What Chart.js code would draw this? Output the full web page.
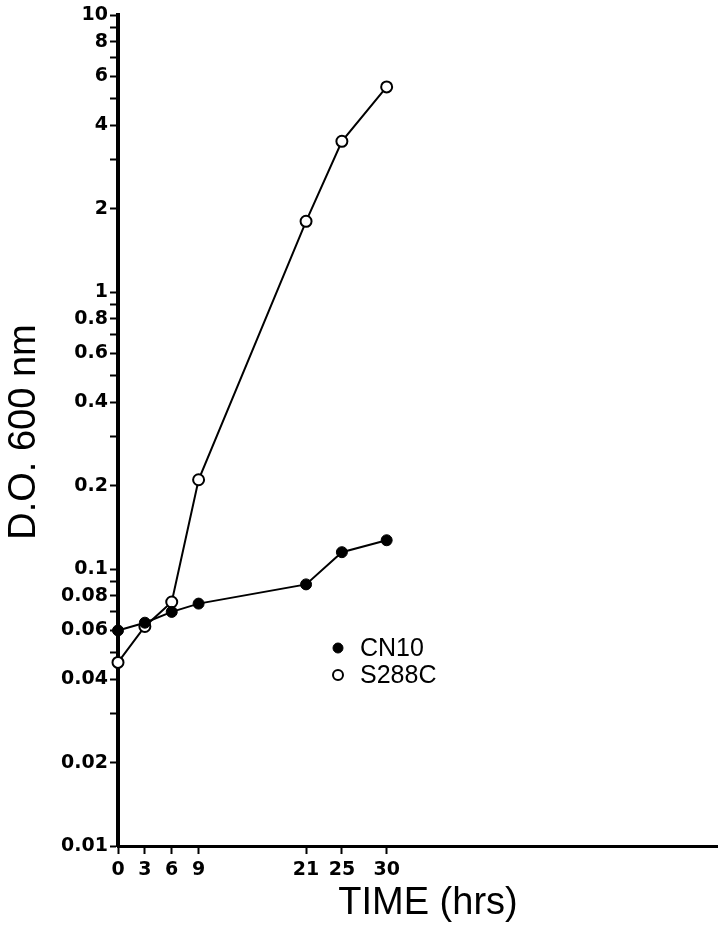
<!DOCTYPE html>
<html>
<head>
<meta charset="utf-8">
<script src="https://cdn.jsdelivr.net/npm/chart.js@4/dist/chart.umd.min.js"></script>
<style>
  body { margin: 0; background: #fff; }
  canvas { display: block; }
</style>
</head>
<body>
<canvas id="growthChart" width="718" height="926"></canvas>
<script>
// growth data
var hours = [0, 3, 6, 9, 21, 25, 30];
var cn10 = [0.060, 0.064, 0.070, 0.075, 0.088, 0.115, 0.127];
var s288c = [0.046, 0.062, 0.076, 0.21, 1.8, 3.5, 5.5];

// axis ticks
var xTicks = [0, 3, 6, 9, 21, 25, 30];
var yTicks = [0.01, 0.02, 0.03, 0.04, 0.05, 0.06, 0.07, 0.08, 0.09,
              0.1, 0.2, 0.3, 0.4, 0.5, 0.6, 0.7, 0.8, 0.9,
              1, 2, 3, 4, 5, 6, 7, 8, 9, 10];
var yLabelled = [0.01, 0.02, 0.04, 0.06, 0.08, 0.1, 0.2, 0.4, 0.6, 0.8,
                 1, 2, 4, 6, 8, 10];

function toPoints(xs, ys) {
    return xs.map(function (x, i) { return {x: x, y: ys[i]}; });
}

// axis titles and the legend sit inside the plot like in the paper figure
var figureText = {
    id: 'figureText',
    afterDraw: function (chart) {
        var ctx = chart.ctx;
        ctx.save();
        ctx.fillStyle = '#000';
        ctx.font = '38px "Liberation Sans", Arial, sans-serif';
        ctx.textAlign = 'center';
        ctx.textBaseline = 'middle';
        ctx.fillText('TIME (hrs)', 428, 904);

        ctx.translate(25, 432);
        ctx.rotate(-Math.PI / 2);
        ctx.fillText('D.O. 600 nm', 0, 0);
        ctx.restore();

        // legend
        ctx.save();
        ctx.font = '25px "Liberation Sans", Arial, sans-serif';
        ctx.textAlign = 'left';
        ctx.textBaseline = 'middle';
        chart.data.datasets.forEach(function (ds, i) {
            var y = 648 + i * 27;
            ctx.beginPath();
            ctx.arc(338, y, ds.pointRadius - 0.5, 0, Math.PI * 2);
            ctx.fillStyle = ds.pointBackgroundColor;
            ctx.fill();
            ctx.lineWidth = ds.pointBorderWidth;
            ctx.strokeStyle = ds.pointBorderColor;
            ctx.stroke();
            ctx.fillStyle = '#000';
            ctx.fillText(ds.label, 360, y + 1);
        });
        ctx.restore();
    }
};

var tickFont = { family: '"DejaVu Sans", sans-serif', size: 19, weight: 'bold' };

var ctx = document.getElementById('growthChart').getContext('2d');
new Chart(ctx, {
    type: 'line',
    data: {
        datasets: [
            {
                label: 'CN10',
                data: toPoints(hours, cn10),
                borderColor: '#000',
                borderWidth: 2,
                pointRadius: 5.5,
                pointBackgroundColor: '#000',
                pointBorderColor: '#000',
                pointBorderWidth: 1,
                clip: false
            },
            {
                label: 'S288C',
                data: toPoints(hours, s288c),
                borderColor: '#000',
                borderWidth: 2,
                pointRadius: 5.5,
                pointBackgroundColor: '#fff',
                pointBorderColor: '#000',
                pointBorderWidth: 2,
                clip: false
            }
        ]
    },
    options: {
        responsive: false,
        animation: false,
        layout: { autoPadding: false, padding: { top: 15, right: 0, left: 0, bottom: 0 } },
        plugins: {
            legend: { display: false },
            tooltip: { enabled: false }
        },
        scales: {
            x: {
                type: 'linear',
                min: 0,
                max: 67,
                afterBuildTicks: function (scale) {
                    scale.ticks = xTicks.map(function (v) { return {value: v}; });
                },
                afterFit: function (scale) { scale.height = 80; },
                border: { display: true, color: '#000', width: 3 },
                grid: { drawOnChartArea: false, drawTicks: true, tickLength: 8, tickWidth: 2, tickColor: '#000' },
                ticks: {
                    color: '#000',
                    padding: 5,
                    maxRotation: 0,
                    autoSkip: false,
                    font: tickFont
                }
            },
            y: {
                type: 'logarithmic',
                min: 0.01,
                max: 10,
                afterBuildTicks: function (scale) {
                    scale.ticks = yTicks.map(function (v) { return {value: v}; });
                },
                afterFit: function (scale) { scale.width = 118; },
                border: { display: true, color: '#000', width: 4 },
                grid: { drawOnChartArea: false, drawTicks: true, tickLength: 8, tickWidth: 2, tickColor: '#000' },
                ticks: {
                    color: '#000',
                    padding: 2,
                    autoSkip: false,
                    font: tickFont,
                    callback: function (value) {
                        return yLabelled.indexOf(value) >= 0 ? String(value) : '';
                    }
                }
            }
        }
    },
    plugins: [figureText]
});
</script>
</body>
</html>
